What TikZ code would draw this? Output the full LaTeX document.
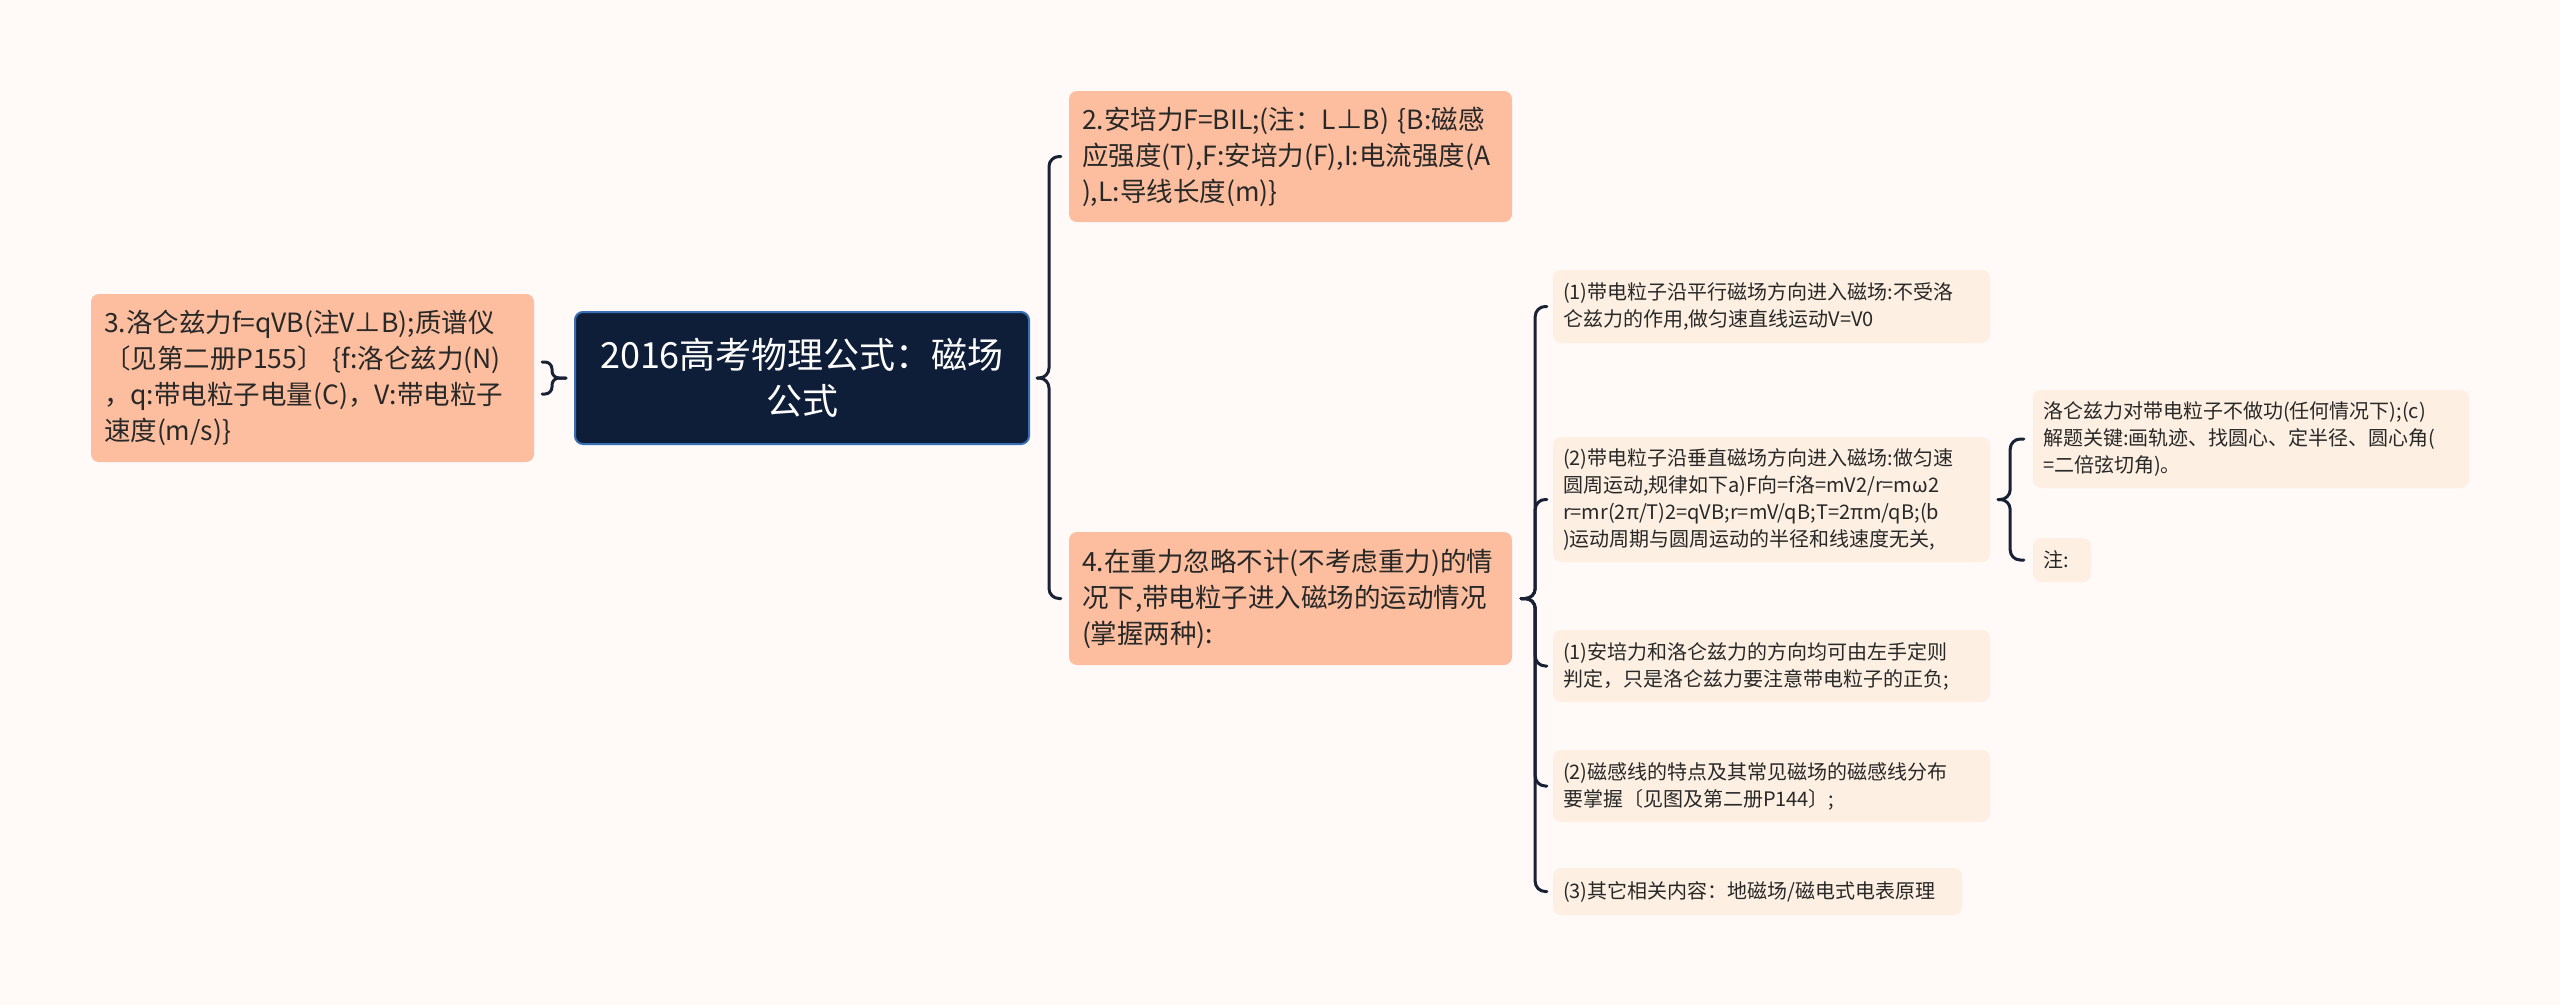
\documentclass[tikz,border=0pt]{standalone}
\usepackage{fontspec}
\setmainfont{Noto Sans CJK SC}
\usetikzlibrary{calc}
\definecolor{bgc}{RGB}{255,250,248}
\definecolor{salmon}{RGB}{252,190,158}
\definecolor{cream}{RGB}{253,240,226}
\definecolor{rootfill}{RGB}{14,30,56}
\definecolor{rootborder}{RGB}{58,110,180}
\definecolor{linec}{RGB}{25,33,52}
\definecolor{txt}{RGB}{40,40,40}
\begin{document}
\begin{tikzpicture}[x=1pt,y=-1pt,
  basebox/.style={rounded corners=8pt, align=left, inner ysep=0pt, text=txt, anchor=center},
  lvlone/.style={basebox, fill=salmon, inner xsep=13pt, font=\fontsize{26.5}{36}\selectfont},
  lvltwo/.style={basebox, fill=cream, inner xsep=10pt, font=\fontsize{20}{27}\selectfont},
  rootbox/.style={rounded corners=8pt, align=center, fill=rootfill, draw=rootborder, line width=2pt,
    text=white, inner xsep=20pt, font=\fontsize{36}{46}\selectfont},
  brace/.style={draw=linec, line width=3pt, line cap=round, line join=round, rounded corners=10pt}
]
\fill[bgc] (0,0) rectangle (2560,1005);
\useasboundingbox (0,0) rectangle (2560,1005);

% root
\node[rootbox, text width=414pt, minimum height=132pt] (R) at (802,378)
  {2016高考物理公式：磁场\\公式};

% left node
\node[lvlone, text width=417pt, minimum height=168pt] (L) at (312.5,378)
  {3.洛仑兹力f=qVB(注V⊥B);质谱仪\\〔见第二册P155〕~\{f:洛仑兹力(N)\\，q:带电粒子电量(C)，V:带电粒子\\速度(m/s)\}};

% right level 1
\node[lvlone, text width=417pt, minimum height=131pt] (N2) at (1290.5,156.5)
  {2.安培力F=BIL;(注：L⊥B)~\{B:磁感\\应强度(T),F:安培力(F),I:电流强度(A\\),L:导线长度(m)\}};
\node[lvlone, text width=417pt, minimum height=133pt] (N4) at (1290.5,598.5)
  {4.在重力忽略不计(不考虑重力)的情\\况下,带电粒子进入磁场的运动情况\\(掌握两种):};

% level 2
\node[lvltwo, text width=417pt, minimum height=73pt] (C1) at (1771.5,306.5)
  {(1)带电粒子沿平行磁场方向进入磁场:不受洛\\仑兹力的作用,做匀速直线运动V=V0};
\node[lvltwo, text width=417pt, minimum height=125pt] (C2) at (1771.5,499.5)
  {(2)带电粒子沿垂直磁场方向进入磁场:做匀速\\圆周运动,规律如下a)F向=f洛=mV2/r=mω2\\r=mr(2π/T)2=qVB;r=mV/qB;T=2πm/qB;(b\\)运动周期与圆周运动的半径和线速度无关,};
\node[lvltwo, text width=417pt, minimum height=72pt] (C3) at (1771.5,666)
  {(1)安培力和洛仑兹力的方向均可由左手定则\\判定，只是洛仑兹力要注意带电粒子的正负;};
\node[lvltwo, text width=417pt, minimum height=72pt] (C4) at (1771.5,786)
  {(2)磁感线的特点及其常见磁场的磁感线分布\\要掌握〔见图及第二册P144〕;};
\node[lvltwo, text width=389pt, minimum height=47pt] (C5) at (1757.5,891.5)
  {(3)其它相关内容：地磁场/磁电式电表原理};

% level 3
\node[lvltwo, text width=416pt, minimum height=98pt] (G1) at (2251,439)
  {洛仑兹力对带电粒子不做功(任何情况下);(c)\\解题关键:画轨迹、找圆心、定半径、圆心角(\\=二倍弦切角)。};
\node[lvltwo, text width=38pt, minimum height=44pt] (G2) at (2062,560)
  {注:};

% braces
\coordinate (tL) at ($(R.west)+(-8,0)$);
\draw[brace, rounded corners=7pt] (tL) -- ++(-14,0) |- ($(L.east)+(8,-16)$);
\draw[brace, rounded corners=7pt] (tL) -- ++(-14,0) |- ($(L.east)+(8,16)$);

\coordinate (tR) at ($(R.east)+(7,0)$);
\draw[brace] (tR) -- ++(12,0) |- ($(N2.west)+(-8,0)$);
\draw[brace] (tR) -- ++(12,0) |- ($(N4.west)+(-8,0)$);

\coordinate (t4) at ($(N4.east)+(9,0)$);
\draw[brace] (t4) -- ++(14,0) |- ($(C1.west)+(-6,0)$);
\draw[brace] (t4) -- ++(14,0) |- ($(C2.west)+(-6,0)$);
\draw[brace] (t4) -- ++(14,0) |- ($(C3.west)+(-6,0)$);
\draw[brace] (t4) -- ++(14,0) |- ($(C4.west)+(-6,0)$);
\draw[brace] (t4) -- ++(14,0) |- ($(C5.west)+(-6,0)$);

\coordinate (t2) at ($(C2.east)+(8,0)$);
\draw[brace] (t2) -- ++(12,0) |- ($(G1.west)+(-9,0)$);
\draw[brace] (t2) -- ++(12,0) |- ($(G2.west)+(-9,0)$);
\end{tikzpicture}
\end{document}
